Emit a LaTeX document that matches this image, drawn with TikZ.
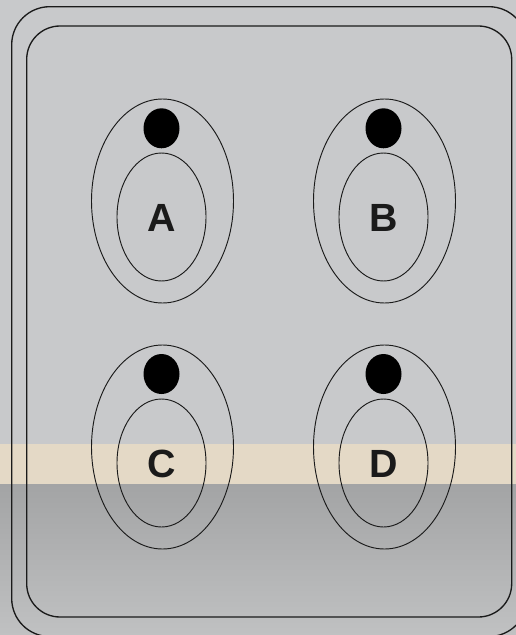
\documentclass[tikz,border=0pt]{standalone}
\usepackage{fontspec}
\setmainfont{Liberation Sans}
\usetikzlibrary{shapes.geometric}
\definecolor{bgtop}{HTML}{C8C9CB}
\definecolor{bgband}{HTML}{E4D9C6}
\definecolor{bglowA}{HTML}{A3A4A5}
\definecolor{bglowB}{HTML}{C0C1C2}
\definecolor{linecol}{HTML}{1A1A1A}
\tikzset{
  frameline/.style={draw=linecol, line width=1.0pt},
  outerov/.style={ellipse, draw=linecol, line width=0.7pt, inner sep=0pt,
    minimum width=106.5pt, minimum height=153pt},
  innerov/.style={ellipse, draw=linecol, line width=0.7pt, inner sep=0pt,
    minimum width=66.75pt, minimum height=96pt},
  holedot/.style={ellipse, fill=black, draw=none, inner sep=0pt,
    minimum width=27pt, minimum height=30pt},
  letter/.style={font=\fontsize{29.5}{29.5}\selectfont\bfseries, text=linecol, inner sep=0pt, anchor=center}
}
\begin{document}
\begin{tikzpicture}[x=0.75pt, y=-0.75pt]
\useasboundingbox (0,0) rectangle (516,635);
\begin{scope}
\clip (0,0) rectangle (516,635);
% background
\fill[bgtop] (0,0) rectangle (516,444);
\fill[bgband] (0,444) rectangle (516,484);
\shade[top color=bglowA, bottom color=bglowB] (0,484) rectangle (516,635);
% frames
\draw[frameline, rounded corners=28.5pt] (11.7,6.7) rectangle (527,636.5);
\draw[frameline, rounded corners=25pt] (26.7,26) rectangle (511.7,617);
% A
\node[outerov] (Aout) at (162.5,201) {};
\node[innerov] (Ain) at (161.5,217) {};
\node[holedot] (Adot) at (161.5,128.3) {};
\node[letter] (Alab) at (161.5,218) {A};
% B
\node[outerov] (Bout) at (384.5,201) {};
\node[innerov] (Bin) at (383.5,217) {};
\node[holedot] (Bdot) at (383.5,128.3) {};
\node[letter] (Blab) at (383.5,218) {B};
% C
\node[outerov] (Cout) at (162.5,447) {};
\node[innerov] (Cin) at (161.5,463) {};
\node[holedot] (Cdot) at (161.5,374) {};
\node[letter] (Clab) at (161.5,464) {C};
% D
\node[outerov] (Dout) at (384.5,447) {};
\node[innerov] (Din) at (383.5,463) {};
\node[holedot] (Ddot) at (383.5,374) {};
\node[letter] (Dlab) at (383.5,464) {D};
\end{scope}
\end{tikzpicture}
\end{document}
